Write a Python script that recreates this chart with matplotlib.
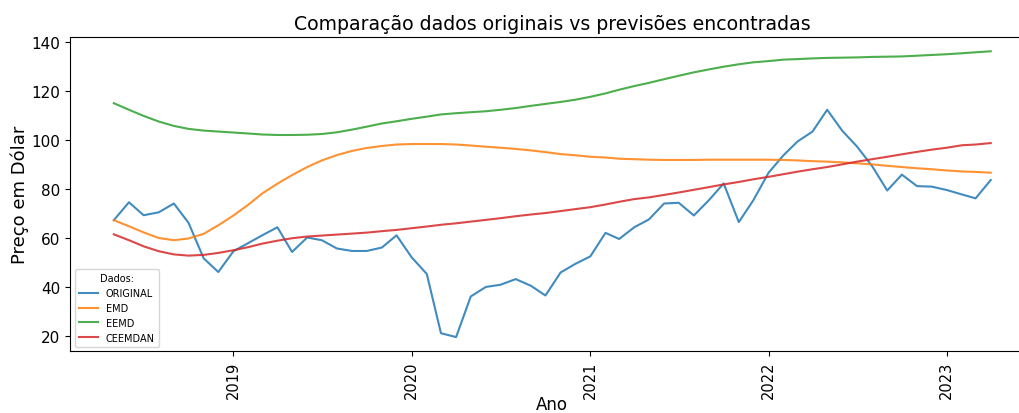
import matplotlib
matplotlib.use("Agg")
import matplotlib.pyplot as plt
import matplotlib.dates as mdates
import pandas as pd

# Monthly observations, May 2018 - April 2023
dates = pd.date_range("2018-05-01", periods=60, freq="MS")

original = [
    67.3, 74.6, 69.3, 70.5, 74.1, 66.2, 51.7, 46.1, 54.6, 58.0,
    61.1, 64.4, 54.3, 60.2, 59.1, 55.7, 54.7, 54.7, 56.1, 61.1,
    52.1, 45.3, 21.1, 19.5, 36.1, 40.0, 40.9, 43.2, 40.5, 36.5,
    45.9, 49.4, 52.5, 62.1, 59.6, 64.4, 67.6, 74.1, 74.4, 69.2,
    75.5, 82.3, 66.5, 75.5, 86.7, 93.9, 99.4, 103.5, 112.4, 103.8,
    97.4, 89.4, 79.4, 85.9, 81.2, 81.0, 79.6, 77.8, 76.2, 83.7,
]

emd = [
    67.3, 64.8, 62.3, 60.0, 59.1, 59.8, 61.7, 65.2, 69.2, 73.7,
    78.2, 82.2, 85.7, 89.0, 91.7, 93.9, 95.6, 96.8, 97.6, 98.2,
    98.4, 98.4, 98.4, 98.2, 97.8, 97.3, 96.9, 96.4, 95.8, 95.1,
    94.3, 93.8, 93.2, 92.9, 92.4, 92.2, 92.0, 91.9, 91.9, 91.9,
    92.0, 92.0, 92.0, 92.0, 92.0, 91.9, 91.7, 91.4, 91.2, 90.9,
    90.5, 90.1, 89.5, 89.0, 88.5, 88.1, 87.6, 87.2, 87.0, 86.7,
]

eemd = [
    115.1, 112.4, 109.9, 107.6, 105.8, 104.6, 103.9, 103.5, 103.1, 102.7,
    102.3, 102.1, 102.1, 102.2, 102.5, 103.2, 104.3, 105.5, 106.8, 107.7,
    108.7, 109.6, 110.5, 111.0, 111.4, 111.8, 112.4, 113.1, 114.0, 114.8,
    115.6, 116.5, 117.7, 119.1, 120.6, 122.1, 123.4, 124.9, 126.3, 127.7,
    128.9, 130.0, 131.0, 131.8, 132.3, 132.9, 133.1, 133.4, 133.6, 133.7,
    133.8, 134.0, 134.1, 134.2, 134.5, 134.8, 135.1, 135.5, 135.9, 136.3,
]

ceemdan = [
    61.5, 59.1, 56.6, 54.6, 53.3, 52.8, 53.1, 53.9, 55.0, 56.3,
    57.7, 58.9, 59.9, 60.6, 61.0, 61.4, 61.8, 62.2, 62.8, 63.3,
    64.0, 64.7, 65.4, 66.0, 66.7, 67.4, 68.1, 68.9, 69.6, 70.2,
    71.0, 71.8, 72.6, 73.7, 74.8, 75.9, 76.6, 77.6, 78.6, 79.7,
    80.8, 81.9, 82.9, 84.0, 85.0, 86.1, 87.1, 88.1, 89.0, 90.1,
    91.2, 92.2, 93.2, 94.2, 95.2, 96.1, 96.9, 97.9, 98.2, 98.8,
]

series = [
    ("ORIGINAL", original),
    ("EMD", emd),
    ("EEMD", eemd),
    ("CEEMDAN", ceemdan),
]

fig = plt.figure(figsize=(10.2, 4.14), dpi=100)
ax = fig.add_axes([0.0686, 0.1488, 0.9457, 0.7594])

for name, values in series:
    ax.plot(dates, values, label=name, linewidth=1.5, alpha=0.85)

ax.set_title("Comparação dados originais vs previsões encontradas", fontsize=13.6)
ax.set_xlabel("Ano", fontsize=12, labelpad=-2)
ax.set_ylabel("Preço em Dólar", fontsize=13, labelpad=2)

ax.xaxis.set_major_locator(mdates.YearLocator())
ax.xaxis.set_major_formatter(mdates.DateFormatter("%Y"))
ax.tick_params(axis="x", labelrotation=90, labelsize=10.5, pad=3)
ax.tick_params(axis="y", labelsize=11)
ax.set_yticks([20, 40, 60, 80, 100, 120, 140])

ax.legend(title="Dados:", loc="lower left", fontsize=7, title_fontsize=7)

fig.savefig("out.png", dpi=100)
